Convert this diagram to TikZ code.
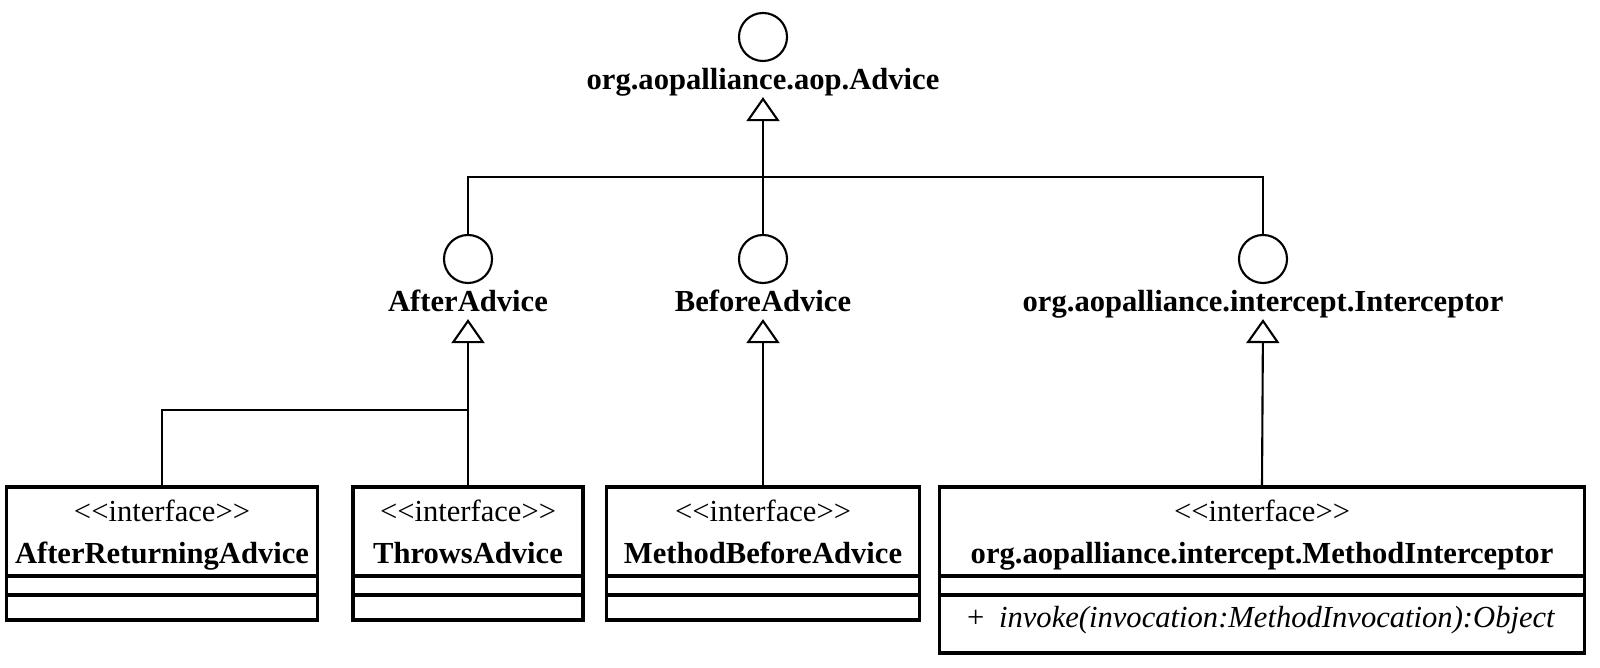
\documentclass[tikz,border=0pt]{standalone}
\usepackage{fontspec}
\setmainfont{Liberation Serif}
\usetikzlibrary{arrows.meta}

\newcommand{\stereo}{<\kern0pt<interface>\kern0pt>}

\begin{document}
\begin{tikzpicture}[x=0.01cm, y=-0.01cm, line width=0.6pt,
    font=\fontsize{8.7}{10}\selectfont,
    iface/.style={circle, draw, inner sep=0pt, minimum size=4.8mm},
    lbl/.style={font=\fontsize{8.7}{10}\selectfont\bfseries, inner sep=0pt, text height=6pt, text depth=2pt},
    cls/.style={draw, line width=0.9pt, inner sep=0pt},
    txt/.style={inner sep=0pt, text height=6pt, text depth=2pt},
    real/.style={-{Triangle[open, width=3.3mm, length=2.4mm]}}]
      \useasboundingbox (0,0) rectangle (1600,668);

      % interfaces drawn as lollipops
      \node[iface] (adv) at (763, 37) {};
      \node[iface] (aft) at (468, 259) {};
      \node[iface] (bef) at (763, 259) {};
      \node[iface] (icp) at (1263, 259) {};
      \node[lbl] (advl) at (763, 82) {org.aopalliance.aop.Advice};
      \node[lbl] (aftl) at (468, 304) {AfterAdvice};
      \node[lbl] (befl) at (763, 304) {BeforeAdvice};
      \node[lbl] (icpl) at (1263, 304) {org.aopalliance.intercept.Interceptor};

      % classes
      \node[cls, minimum width=3.11cm, minimum height=1.33cm] (arb) at (162, 553.5) {};
      \node[cls, minimum width=2.30cm, minimum height=1.33cm] (thr) at (468, 553.5) {};
      \node[cls, minimum width=3.13cm, minimum height=1.33cm] (mba) at (763, 553.5) {};
      \node[cls, minimum width=6.45cm, minimum height=1.66cm] (mi) at (1262, 570) {};

      \node[txt] (arbs) at (162, 514) {\stereo};
      \node[txt] (thrs) at (468, 514) {\stereo};
      \node[txt] (mbas) at (763, 514) {\stereo};
      \node[txt] (mis) at (1262, 514) {\stereo};
      \node[lbl] (arbn) at (162, 556) {AfterReturningAdvice};
      \node[lbl] (thrn) at (468, 556) {ThrowsAdvice};
      \node[lbl] (mban) at (763, 556) {MethodBeforeAdvice};
      \node[lbl] (min) at (1262, 556) {org.aopalliance.intercept.MethodInterceptor};
      \node[txt, anchor=west] (plus) at (966, 620) {+};
      \node[txt, anchor=west, font=\fontsize{8.7}{10}\selectfont\itshape] (op) at (998, 620) {invoke(invocation:MethodInvocation):Object};

      \foreach \b in {arb, thr, mba, mi} {
        \draw[line width=0.9pt] (\b.west |- 0,576) -- (\b.east |- 0,576);
        \draw[line width=0.9pt] (\b.west |- 0,595) -- (\b.east |- 0,595);
      }

      % generalisations
      \coordinate (bar) at (763, 177);
      \coordinate (join) at (468, 410);
      \draw (aft.north) |- (bar) -| (icp.north);
      \draw[real] (bef.north) -- (advl.south);
      \draw[real] (thr.north) -- (aftl.south);
      \draw (arb.north) |- (join);
      \draw[real] (mba.north) -- (befl.south);
      \draw[real] (mi.north) -- (icpl.south);
\end{tikzpicture}
\end{document}
